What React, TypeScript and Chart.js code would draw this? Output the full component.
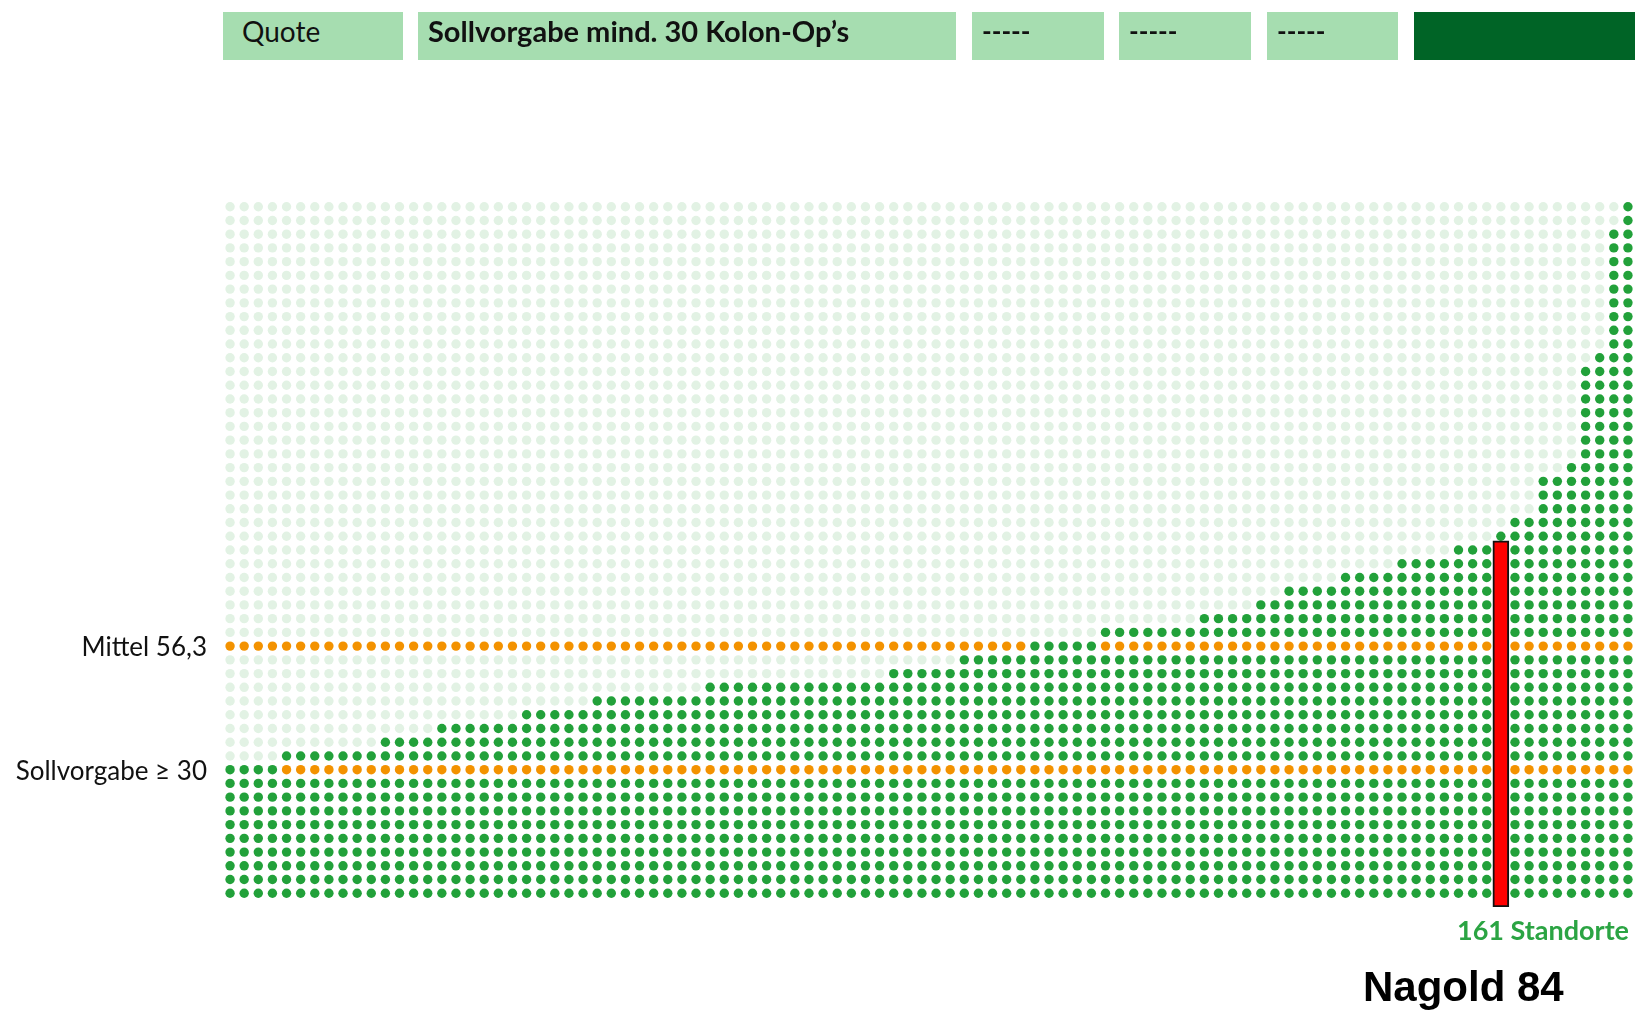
import React, { useEffect, useRef } from "react";
import { Chart, registerables } from "chart.js";

Chart.register(...registerables);

// Number of filled (green) dots per column, left to right (100 columns)
const columnDots = [
  10, 10, 10, 10, 11, 11, 11, 11, 11, 11,
  11, 12, 12, 12, 12, 13, 13, 13, 13, 13,
  13, 14, 14, 14, 14, 14, 15, 15, 15, 15,
  15, 15, 15, 15, 16, 16, 16, 16, 16, 16,
  16, 16, 16, 16, 16, 16, 16, 17, 17, 17,
  17, 17, 18, 18, 18, 18, 18, 19, 19, 19,
  19, 19, 20, 20, 20, 20, 20, 20, 20, 21,
  21, 21, 21, 22, 22, 23, 23, 23, 23, 24,
  24, 24, 24, 25, 25, 25, 25, 26, 26, 26,
  27, 28, 28, 31, 31, 32, 39, 40, 49, 51,
];
const ROW_COUNT = 51; // dot rows in the grid
const OPS_PER_DOT = 3; // Kolon-Ops represented by one dot row
const sollvorgabe = 30;
const mittel = 56.3;
const standorte = 161;
const nagoldColumn = 90;
const nagoldRange = [0, 80];
const nagoldValue = 84;
const headerLabels = ["Quote", "Sollvorgabe mind. 30 Kolon-Op’s", "-----", "-----", "-----", ""];
const headerBoxes = [
  { left: 223, width: 180, pad: 19, size: 28, weight: 400, dark: false },
  { left: 418, width: 538, pad: 10, size: 29, weight: 700, dark: false },
  { left: 972, width: 132, pad: 10, size: 26, weight: 700, dark: false },
  { left: 1119, width: 132, pad: 10, size: 26, weight: 700, dark: false },
  { left: 1267, width: 131, pad: 10, size: 26, weight: 700, dark: false },
  { left: 1414, width: 221, pad: 10, size: 26, weight: 700, dark: true },
];

const W = 1635;
const H = 1010;
const GREEN = "#22a13a";
const LIGHT = "#e2f2e4";
const ORANGE = "#f39200";

function buildDots() {
  const sollRow = Math.round(sollvorgabe / OPS_PER_DOT) - 1;
  const mittelRow = Math.round(mittel / OPS_PER_DOT) - 1;
  const light: { x: number; y: number }[] = [];
  const green: { x: number; y: number }[] = [];
  const orange: { x: number; y: number }[] = [];
  columnDots.forEach((count, c) => {
    const top = count - 1;
    for (let r = 0; r < ROW_COUNT; r++) {
      const pt = { x: c, y: (r + 1) * OPS_PER_DOT };
      const isOrangeRow = r === sollRow || r === mittelRow;
      if (isOrangeRow && r !== top) orange.push(pt);
      else if (r <= top) green.push(pt);
      else light.push(pt);
    }
  });
  return { light, green, orange };
}

export default function App() {
  const ref = useRef<HTMLCanvasElement | null>(null);

  useEffect(() => {
    if (!ref.current) return;
    const { light, green, orange } = buildDots();
    const pointBase = {
      type: "scatter" as const,
      pointRadius: 4.7,
      pointBorderWidth: 0,
      pointHoverRadius: 4.7,
      showLine: false,
      clip: false as any,
      order: 1,
    };
    const chart = new Chart(ref.current, {
      type: "scatter",
      data: {
        datasets: [
          { ...pointBase, label: "leer", data: light, backgroundColor: LIGHT, pointBackgroundColor: LIGHT },
          { ...pointBase, label: "Standorte", data: green, backgroundColor: GREEN, pointBackgroundColor: GREEN },
          { ...pointBase, label: "Linien", data: orange, backgroundColor: ORANGE, pointBackgroundColor: ORANGE },
          {
            type: "bar" as const,
            label: "Nagold",
            data: [{ x: nagoldColumn, y: nagoldRange }] as any,
            backgroundColor: "#ff0000",
            borderColor: "#111111",
            borderWidth: 2,
            borderSkipped: false,
            barThickness: 16,
            order: 0,
          } as any,
        ],
      },
      options: {
        responsive: false,
        animation: false,
        events: [],
        layout: { autoPadding: false, padding: { left: 223, right: 0, top: 193, bottom: 103 } },
        plugins: { legend: { display: false }, tooltip: { enabled: false } },
        scales: {
          x: { type: "linear", display: false, min: -0.5, max: 99.5, offset: false },
          y: { type: "linear", display: false, min: 0, max: (ROW_COUNT + 1) * OPS_PER_DOT },
        },
      } as any,
    });
    return () => chart.destroy();
  }, []);

  const textFont = "Lato, 'Open Sans', sans-serif";

  return (
    <div style={{ position: "absolute", left: 0, top: 0, width: W, height: H, background: "#fff", overflow: "hidden" }}>
      <canvas ref={ref} width={W} height={H} style={{ position: "absolute", left: 0, top: 0, display: "block" }} />
      {headerBoxes.map((b, i) => (
        <div
          key={i}
          style={{
            position: "absolute",
            left: b.left,
            top: 12,
            width: b.width,
            height: 48,
            background: b.dark ? "#006426" : "#a6ddb0",
            fontFamily: textFont,
            fontWeight: b.weight,
            fontSize: b.size,
            lineHeight: "38px",
            color: "#111",
            paddingLeft: b.pad,
            boxSizing: "border-box",
            whiteSpace: "nowrap",
          }}
        >
          {headerLabels[i]}
        </div>
      ))}
      <div
        style={{
          position: "absolute", left: 0, width: 207, top: 631, lineHeight: "30px",
          textAlign: "right", fontFamily: textFont, fontSize: 26, color: "#111", whiteSpace: "nowrap",
        }}
      >
        {`Mittel ${mittel.toString().replace(".", ",")}`}
      </div>
      <div
        style={{
          position: "absolute", left: 0, width: 207, top: 755, lineHeight: "30px",
          textAlign: "right", fontFamily: textFont, fontSize: 26, color: "#111", whiteSpace: "nowrap",
        }}
      >
        {`Sollvorgabe ≥ ${sollvorgabe}`}
      </div>
      <div
        style={{
          position: "absolute", left: 1300, width: 329, top: 915, lineHeight: "30px",
          textAlign: "right", fontFamily: textFont, fontWeight: 700, fontSize: 27, color: "#2ba443", whiteSpace: "nowrap",
        }}
      >
        {`${standorte} Standorte`}
      </div>
      <div
        style={{
          position: "absolute", left: 1363, top: 962, lineHeight: "50px",
          fontFamily: "'Liberation Sans', Arial, sans-serif", fontWeight: 700, fontSize: 42, color: "#000", whiteSpace: "nowrap",
        }}
      >
        {`Nagold ${nagoldValue}`}
      </div>
    </div>
  );
}
